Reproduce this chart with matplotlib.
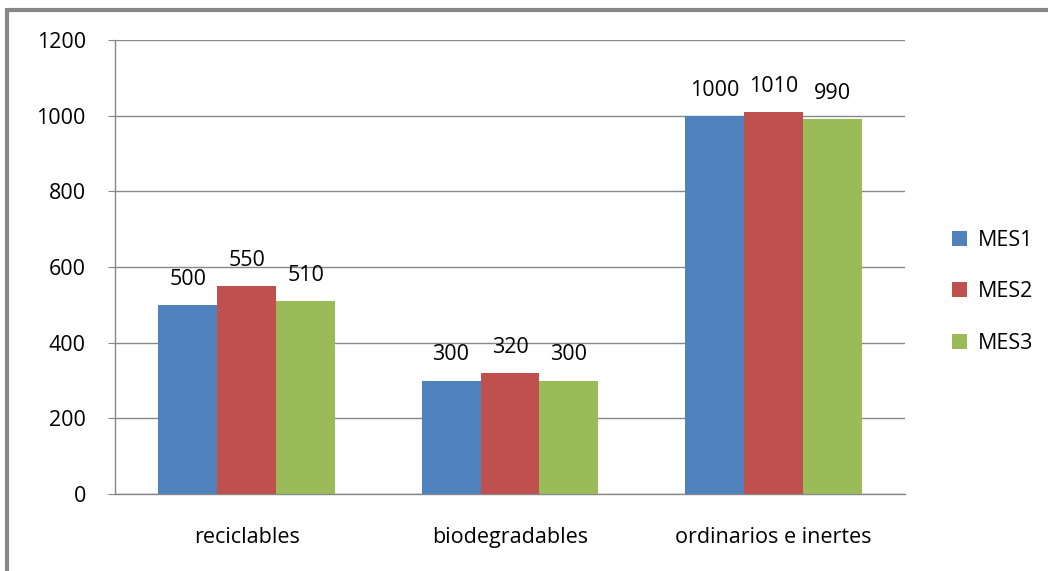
import matplotlib
matplotlib.use("Agg")
import matplotlib.pyplot as plt
import numpy as np
from matplotlib.patches import Rectangle

categories = ["reciclables", "biodegradables", "ordinarios e inertes"]
series_names = ["MES1", "MES2", "MES3"]
mes1 = [500, 300, 1000]
mes2 = [550, 320, 1010]
mes3 = [510, 300, 990]
colors = ["#4F81BD", "#C0504D", "#9BBB59"]

plt.rcParams['font.family'] = ['Open Sans', 'DejaVu Sans']
FS = 15.5

fig = plt.figure(figsize=(10.48, 5.71), dpi=100)
fig.patches.append(Rectangle((7/1048, -0.1), 1.2, (1 - 10/571) + 0.1, transform=fig.transFigure,
                             fill=False, edgecolor="#878787", linewidth=3, zorder=0))
ax = fig.add_axes([115/1048, 1 - 494/571, 790/1048, 454/571])

x = np.arange(len(categories))
w = 0.224
for i, (vals, name, c) in enumerate(zip([mes1, mes2, mes3], series_names, colors)):
    pos = x + (i - 1) * w
    ax.bar(pos, vals, w, color=c, label=name, zorder=3)
    for xp, v in zip(pos, vals):
        ax.text(xp, v + 40, str(v), ha="center", va="bottom", fontsize=FS, color="black")

ax.set_xlim(-0.5, 2.5)
ax.set_ylim(0, 1200)
ax.set_yticks(range(0, 1201, 200))
ax.set_xticks(x)
ax.set_xticklabels(categories, fontsize=FS)
ax.tick_params(axis="y", labelsize=FS, length=5, color="#878787", pad=16)
ax.tick_params(axis="x", length=0, pad=24)
ax.grid(axis="y", color="#878787", linewidth=1, zorder=0)
for s in ["top", "right"]:
    ax.spines[s].set_visible(False)
for s in ["left", "bottom"]:
    ax.spines[s].set_color("#878787")
    ax.spines[s].set_linewidth(1)

ax.legend(loc="center left", bbox_to_anchor=(1.035, 0.445), frameon=False, fontsize=FS,
          handlelength=0.7, handleheight=0.7, labelspacing=1.4, handletextpad=0.5)

fig.savefig("out.png", dpi=100)
